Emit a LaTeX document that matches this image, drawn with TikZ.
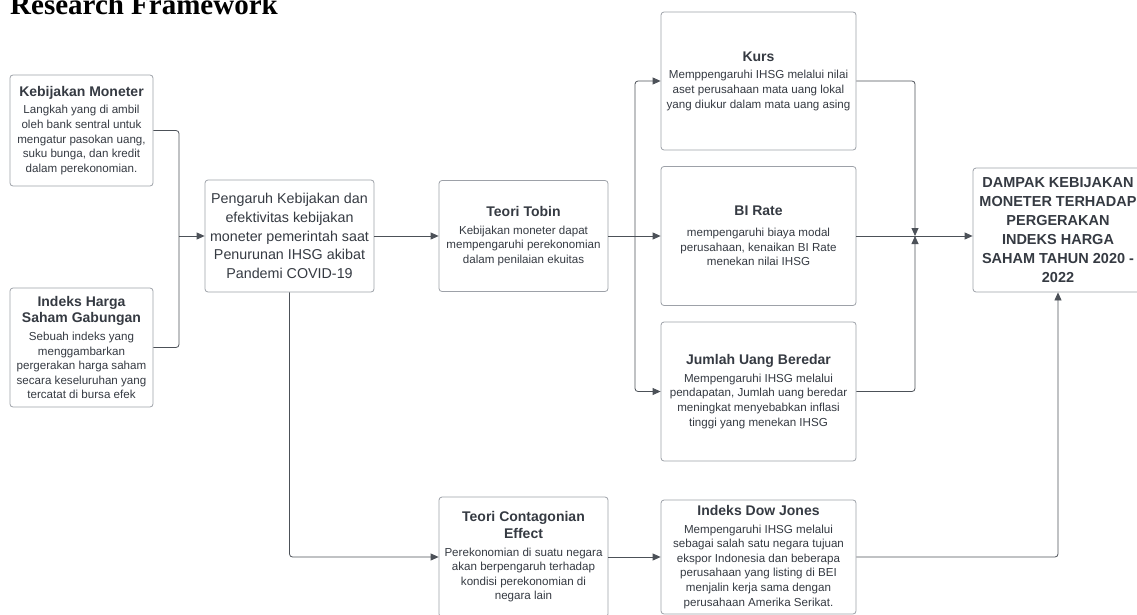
\documentclass[tikz,border=0pt]{standalone}
\usepackage{fontspec}
\setmainfont{Liberation Sans}
\newfontfamily\headserif{Liberation Serif}
\usetikzlibrary{arrows.meta}
\definecolor{boxline}{HTML}{9DA1A8}
\definecolor{txt}{HTML}{353A42}
\definecolor{wirecol}{HTML}{4C5158}
\newcommand{\hd}[1]{{\fontsize{14}{17}\selectfont\bfseries #1}}
\tikzset{
  box/.style={draw=boxline,line width=0.8pt,rounded corners=3pt,align=center,text=txt,inner sep=2pt,font=\fontsize{11.6}{14.6}\selectfont},
  wire/.style={draw=wirecol,line width=0.8pt,rounded corners=3pt},
  arr/.style={wire,-{Triangle[length=8pt,width=7pt]}}
}
\begin{document}
\begin{tikzpicture}[x=1pt,y=-1pt]
\useasboundingbox (0,0) rectangle (1137,615);
\clip (0,0) rectangle (1137,615);
\node[anchor=base west,inner sep=0pt,font=\headserif\bfseries\fontsize{29}{30}\selectfont] (title) at (10,15) {Research Framework};
\node[box,minimum width=143pt,minimum height=111pt] (km) at (81.5,130.5) {\hd{Kebijakan Moneter}\\[3pt]Langkah yang di ambil\\oleh bank sentral untuk\\mengatur pasokan uang,\\suku bunga, dan kredit\\dalam perekonomian.};
\node[box,minimum width=143pt,minimum height=119pt] (ihsg) at (81.5,347.5) {\hd{Indeks Harga}\\[2pt]\hd{Saham Gabungan}\\[3pt]Sebuah indeks yang\\menggambarkan\\pergerakan harga saham\\secara keseluruhan yang\\tercatat di bursa efek};
\node[box,minimum width=169pt,minimum height=112pt,font=\fontsize{14.3}{18.8}\selectfont] (pengaruh) at (289.5,236) {Pengaruh Kebijakan dan\\efektivitas kebijakan\\moneter pemerintah saat\\Penurunan IHSG akibat\\Pandemi COVID-19};
\node[box,minimum width=169pt,minimum height=111pt] (tobin) at (523.5,236) {\hd{Teori Tobin}\\[3pt]Kebijakan moneter dapat\\mempengaruhi perekonomian\\dalam penilaian ekuitas};
\node[box,minimum width=195pt,minimum height=138pt] (kurs) at (758.5,81) {\hd{Kurs}\\[3pt]Memppengaruhi IHSG melalui nilai\\aset perusahaan mata uang lokal\\yang diukur dalam mata uang asing};
\node[box,minimum width=195pt,minimum height=139pt] (birate) at (758.5,236) {\hd{BI Rate}\\[6pt]mempengaruhi biaya modal\\perusahaan, kenaikan BI Rate\\menekan nilai IHSG};
\node[box,minimum width=195pt,minimum height=139pt] (jub) at (758.5,391.5) {\hd{Jumlah Uang Beredar}\\[3pt]Mempengaruhi IHSG melalui\\pendapatan, Jumlah uang beredar\\meningkat menyebabkan inflasi\\tinggi yang menekan IHSG};
\node[box,minimum width=170pt,minimum height=124pt,font=\fontsize{14.5}{19}\selectfont\bfseries] (dampak) at (1058,230) {DAMPAK KEBIJAKAN\\MONETER TERHADAP\\PERGERAKAN\\INDEKS HARGA\\SAHAM TAHUN 2020 -\\2022};
\node[box,minimum width=169pt,minimum height=120pt] (contag) at (523.5,557) {\hd{Teori Contagonian}\\[2pt]\hd{Effect}\\[3pt]Perekonomian di suatu negara\\akan berpengaruh terhadap\\kondisi perekonomian di\\negara lain};
\node[box,minimum width=195pt,minimum height=114pt] (dow) at (758.5,557) {\hd{Indeks Dow Jones}\\[3pt]Mempengaruhi IHSG melalui\\sebagai salah satu negara tujuan\\ekspor Indonesia dan beberapa\\perusahaan yang listing di BEI\\menjalin kerja sama dengan\\perusahaan Amerika Serikat.};
\coordinate (jl) at (179,236);
\coordinate (jm) at (635,236);
\coordinate (jr) at (915,236);
\draw[wire] (km.east) -| (jl);
\draw[wire] (ihsg.east) -| (jl);
\draw[arr] (jl) -- (pengaruh.west);
\draw[arr] (pengaruh.east) -- (tobin.west);
\draw[wire] (tobin.east) -- (jm);
\draw[arr] (jm) |- (kurs.west);
\draw[arr] (jm) -- (birate.west);
\draw[arr] (jm) |- (jub.west);
\draw[arr] (kurs.east) -| (jr);
\draw[arr] (jub.east) -| (jr);
\draw[arr] (birate.east) -- (birate.east -| dampak.west);
\draw[arr] (pengaruh.south) |- (contag.west);
\draw[arr] (contag.east) -- (contag.east -| dow.west);
\draw[arr] (dow.east) -| (dampak.south);
\end{tikzpicture}
\end{document}
